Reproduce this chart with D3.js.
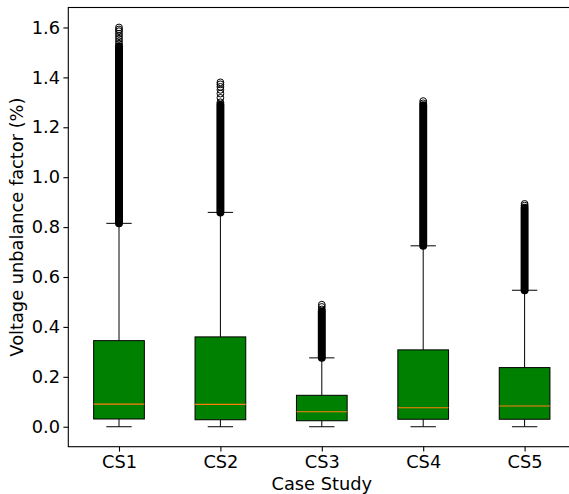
<!DOCTYPE html>
<html>
<head>
<meta charset="utf-8">
<script src="https://cdn.jsdelivr.net/npm/d3@7"></script>
<style>
  html, body { margin: 0; padding: 0; background: #fff; }
  svg { display: block; font-family: "DejaVu Sans", sans-serif; }
</style>
</head>
<body>
<svg id="chart" width="569" height="494"></svg>
<script>
// ---- data ----
const categories   = ["CS1", "CS2", "CS3", "CS4", "CS5"];
const whiskerLow   = [0.0, 0.0, 0.0, 0.0, 0.0];
const q1           = [0.031, 0.028, 0.024, 0.030, 0.030];
const median       = [0.091, 0.090, 0.060, 0.076, 0.083];
const q3           = [0.345, 0.360, 0.126, 0.308, 0.237];
const whiskerHigh  = [0.815, 0.859, 0.276, 0.725, 0.547];
// dense outlier bands (thousands of overlapping markers, drawn as one solid column)
const denseFlierLow  = [0.815, 0.859, 0.276, 0.725, 0.547];
const denseFlierHigh = [1.525, 1.290, 0.462, 1.288, 0.878];
// individually visible outliers at the top of each column
const sparseFliers = [
  [1.535, 1.545, 1.555, 1.565, 1.575, 1.585, 1.592, 1.600],
  [1.300, 1.318, 1.335, 1.350, 1.362, 1.372, 1.380],
  [0.470, 0.480, 0.489],
  [1.296, 1.305],
  [0.886, 0.893]
];
const yTicks = [0.0, 0.2, 0.4, 0.6, 0.8, 1.0, 1.2, 1.4, 1.6];
const yLabel = "Voltage unbalance factor (%)";
const xLabel = "Case Study";

// ---- layout ----
const svg = d3.select("#chart");
const L = 68.3, R = 575.3, T = 7.5, B = 446.7;

const x = d3.scalePoint().domain(categories).range([L, R]).padding(0.5);
const y = d3.scaleLinear().domain([-0.08, 1.68]).range([B, T]);
const step = x.step();
const boxW = step * 0.5;
const capW = step * 0.25;
const fontSize = 17.8;

// frame (top, left, bottom spines; right spine lies outside the window)
svg.append("rect")
  .attr("x", L).attr("y", T).attr("width", R - L).attr("height", B - T)
  .attr("fill", "none").attr("stroke", "#000").attr("stroke-width", 1.1);

// axes
const yAxis = d3.axisLeft(y).tickValues(yTicks).tickFormat(d3.format(".1f"))
  .tickSize(4.9).tickPadding(3.4);
const gy = svg.append("g").attr("transform", `translate(${L},0)`).call(yAxis);
const xAxis = d3.axisBottom(x).tickSize(4.9).tickPadding(4.0);
const gx = svg.append("g").attr("transform", `translate(0,${B})`).call(xAxis);
[gy, gx].forEach(g => {
  g.select(".domain").remove();
  g.selectAll(".tick line").attr("stroke", "#000").attr("stroke-width", 1.1);
  g.selectAll(".tick text").attr("fill", "#000")
    .style("font-size", fontSize + "px").style("font-family", "DejaVu Sans");
});

// boxes
const boxes = svg.append("g").selectAll("g").data(categories).join("g");
boxes.each(function(c, i) {
  const g = d3.select(this);
  const cx = x(c);
  // whiskers
  g.append("line").attr("x1", cx).attr("x2", cx)
    .attr("y1", y(whiskerLow[i])).attr("y2", y(q1[i]))
    .attr("stroke", "#000").attr("stroke-width", 1);
  g.append("line").attr("x1", cx).attr("x2", cx)
    .attr("y1", y(q3[i])).attr("y2", y(whiskerHigh[i]))
    .attr("stroke", "#000").attr("stroke-width", 1);
  // caps
  [whiskerLow[i], whiskerHigh[i]].forEach(v => {
    g.append("line").attr("x1", cx - capW / 2).attr("x2", cx + capW / 2)
      .attr("y1", y(v)).attr("y2", y(v))
      .attr("stroke", "#000").attr("stroke-width", 1);
  });
  // box
  g.append("rect").attr("x", cx - boxW / 2).attr("width", boxW)
    .attr("y", y(q3[i])).attr("height", y(q1[i]) - y(q3[i]))
    .attr("fill", "#008000").attr("stroke", "#000").attr("stroke-width", 1);
  // median
  g.append("line").attr("x1", cx - boxW / 2).attr("x2", cx + boxW / 2)
    .attr("y1", y(median[i])).attr("y2", y(median[i]))
    .attr("stroke", "#ff7f0e").attr("stroke-width", 1.2);
  // dense flier band
  g.append("line").attr("x1", cx).attr("x2", cx)
    .attr("y1", y(denseFlierLow[i])).attr("y2", y(denseFlierHigh[i]))
    .attr("stroke", "#000").attr("stroke-width", 8).attr("stroke-linecap", "round");
  // sparse fliers
  g.selectAll("circle.fl").data(sparseFliers[i]).join("circle")
    .attr("class", "fl").attr("cx", cx).attr("cy", v => y(v)).attr("r", 3.4)
    .attr("fill", "none").attr("stroke", "#000").attr("stroke-width", 1);
});

// labels
svg.append("text")
  .attr("transform", `translate(23,${(T + B) / 2}) rotate(-90)`)
  .attr("text-anchor", "middle").attr("fill", "#000")
  .style("font-size", fontSize + "px").text(yLabel);
svg.append("text")
  .attr("x", (L + R) / 2).attr("y", 490)
  .attr("text-anchor", "middle").attr("fill", "#000")
  .style("font-size", fontSize + "px").text(xLabel);
</script>
</body>
</html>
